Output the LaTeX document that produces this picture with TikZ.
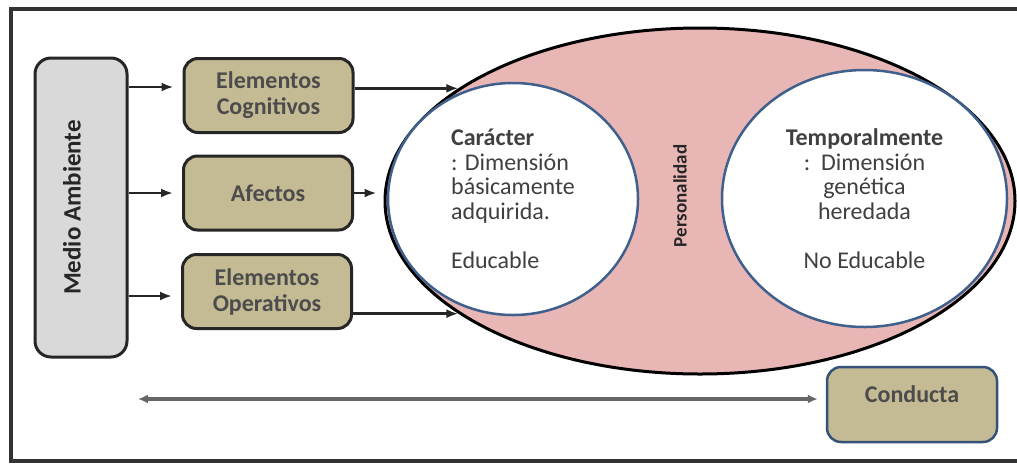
\documentclass[tikz,border=0pt]{standalone}
\usepackage{fontspec}
\setmainfont{Carlito}
\usepackage{graphicx}
\usepackage{tikz}
\usetikzlibrary{positioning,calc,arrows.meta,shapes.geometric}

\definecolor{boxtan}{HTML}{C4BB94}
\definecolor{envgray}{HTML}{D9D9D9}
\definecolor{perspink}{HTML}{E8B7B5}
\definecolor{ringblue}{HTML}{3F5F8C}
\definecolor{txtgray}{HTML}{404040}

\begin{document}
\begin{tikzpicture}[x=1pt,y=-1pt,
      bx/.style={draw=black!85,line width=3pt,rounded corners=14pt,fill=boxtan,minimum width=169pt,minimum height=74pt,inner sep=0pt,align=center,font=\fontsize{24}{26}\selectfont\bfseries,text=black!70},
      envbox/.style={bx,fill=envgray,minimum width=92pt,minimum height=299pt,rounded corners=16pt,font=\fontsize{25}{27}\selectfont\bfseries,text=black!85},
      ring/.style={ellipse,draw=ringblue,line width=2.5pt,fill=white,inner sep=0pt,font=\fontsize{24}{24.5}\selectfont,text=txtgray},
      arr/.style={-{Latex[length=12pt,width=9pt]},line width=2.5pt,draw=black!85},
      dbl/.style={{Latex[length=10pt,width=9pt]}-{Latex[length=10pt,width=9pt]},line width=3.5pt,draw=black!60}]
    \useasboundingbox (0,0) rectangle (1017,464);
    \fill[white] (0,0) rectangle (1017,464);
    \draw[line width=3.5pt,draw=black!80] (11,9) rectangle (1035,461);
    % left column
    \node[envbox] (ma) at (81,207.5) {\rotatebox{90}{Medio Ambiente}\hspace*{18pt}};
    \node[bx] (cog) at (268.5,95.5) {Elementos\\Cognitivos};
    \node[bx] (afe) at (268,193) {Afectos};
    \node[bx] (ope) at (267,291.5) {Elementos\\Operativos};
    \foreach \b/\dy in {cog/-8.5,afe/0,ope/4.5} { \draw[arr] ($(ma.east|-\b.west)+(0,\dy)$) -- ($(\b.west)+(-9,\dy)$); }
    % personality
    \node[ellipse,draw=black,line width=3pt,fill=perspink,minimum width=630pt,minimum height=346pt] (pers) at (700,201) {};
    \node[ring,minimum width=250pt,minimum height=232pt,align=left] (car) at (513,199) {\textbf{Carácter}\\: Dimensión\\básicamente\\adquirida.\\[24.5pt]Educable};
    \node[ring,minimum width=285pt,minimum height=257pt,align=center] (tem) at (864.5,198.5) {\textbf{Temporalmente}\\:\ \ Dimensión\\genética\\heredada\\[24.5pt]No Educable};
    \node[rotate=90,font=\fontsize{19}{20}\selectfont\bfseries,text=black!85] (plab) at (680,196) {Personalidad};
    \draw[arr] (cog.east|-pers.155) -- (pers.155);
    \draw[arr,shorten >=7pt] (afe.east) -- (afe.east-|pers.west);
    \draw[arr] (ope.east|-pers.205) -- (pers.205);
    % behaviour
    \node[bx,draw=ringblue!85!black,line width=2.5pt,minimum width=170pt,minimum height=75pt] (con) at (912,404.5) {\raisebox{10pt}[\height][\depth]{Conducta}};
    \coordinate (back) at (138,399);
    \draw[dbl,shorten >=8pt] (back) -- (back-|con.west);
  \end{tikzpicture}
\end{document}
